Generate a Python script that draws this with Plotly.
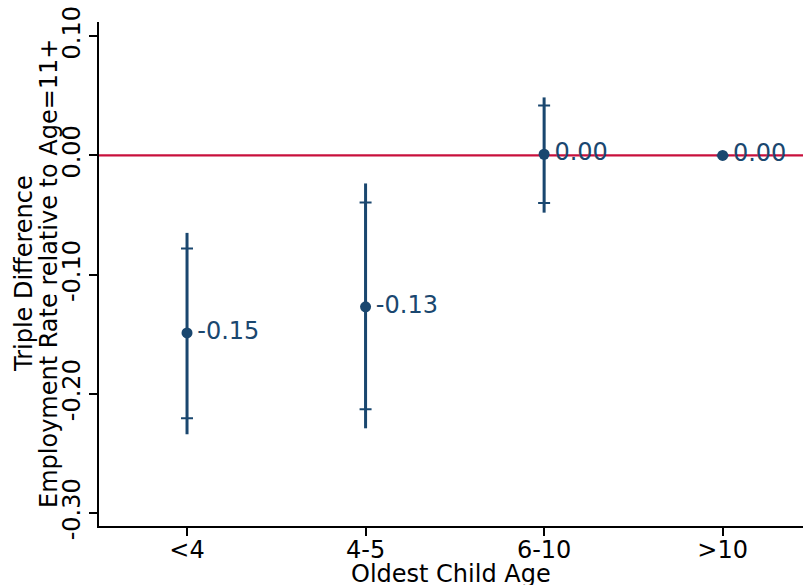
import plotly.graph_objects as go

categories = ["<4", "4-5", "6-10", ">10"]
estimates = [-0.149, -0.127, 0.001, 0.000]
ci95_low = [-0.234, -0.229, -0.048, None]
ci95_high = [-0.065, -0.0235, 0.0487, None]
ci90_low = [-0.2206, -0.213, -0.040, None]
ci90_high = [-0.078, -0.0394, 0.042, None]
y_ticks = [0.10, 0.00, -0.10, -0.20, -0.30]
y_title_lines = ["Triple Difference", "Employment Rate relative to Age=11+"]
x_title = "Oldest Child Age"

navy = "#1a476f"
red = "#c8103c"
font = "DejaVu Sans"
fs = 24

def plus(hi):
    return [None if h is None else h - e for h, e in zip(hi, estimates)]

def minus(lo):
    return [None if l is None else e - l for l, e in zip(lo, estimates)]

fig = go.Figure()

fig.add_trace(go.Scatter(
    x=categories, y=estimates, mode="markers",
    marker=dict(size=1, color=navy, opacity=0),
    error_y=dict(type="data", symmetric=False, array=plus(ci95_high),
                 arrayminus=minus(ci95_low), color=navy, thickness=3, width=0),
    showlegend=False, hoverinfo="skip"))

fig.add_trace(go.Scatter(
    x=categories, y=estimates, mode="markers",
    marker=dict(size=1, color=navy, opacity=0),
    error_y=dict(type="data", symmetric=False, array=plus(ci90_high),
                 arrayminus=minus(ci90_low), color=navy, thickness=2, width=6),
    showlegend=False, hoverinfo="skip"))

fig.add_trace(go.Scatter(
    x=categories, y=estimates, mode="markers+text",
    marker=dict(size=11, color=navy),
    text=["\u200a" + f"{v:.2f}" for v in estimates],
    textposition="middle right",
    textfont=dict(family=font, size=fs, color=navy),
    showlegend=False, cliponaxis=False))

fig.add_shape(type="line", xref="paper", x0=0, x1=1, yref="y", y0=0, y1=0,
              line=dict(color=red, width=2.2), layer="below")

for txt, shift in zip(y_title_lines, [-75, -50]):
    fig.add_annotation(text=txt, xref="paper", yref="paper", x=0, y=0.5,
                       xanchor="center", yanchor="middle", xshift=shift,
                       textangle=-90, showarrow=False,
                       font=dict(family=font, size=fs, color="black"))

fig.add_annotation(text=x_title, xref="paper", yref="paper", x=0.5, y=0,
                   xanchor="center", yanchor="middle", yshift=-48,
                   showarrow=False, font=dict(family=font, size=fs, color="black"))

fig.update_layout(
    width=803, height=585,
    margin=dict(l=99, r=0, t=22, b=59),
    paper_bgcolor="white", plot_bgcolor="white",
    font=dict(family=font, size=fs, color="black"),
    xaxis=dict(
        type="category", range=[-0.493, 3.45], automargin=False,
        showline=True, linecolor="black", linewidth=1.5,
        ticks="outside", ticklen=8, tickwidth=1.5, tickcolor="black",
        showgrid=False, zeroline=False, ticklabelstandoff=-7,
        tickfont=dict(family=font, size=fs),
    ),
    yaxis=dict(
        range=[-0.311, 0.112], automargin=False,
        tickvals=y_ticks, ticktext=[f"{v:.2f}" for v in y_ticks],
        tickangle=-90,
        showline=True, linecolor="black", linewidth=1.5,
        ticks="outside", ticklen=8, tickwidth=1.5, tickcolor="black",
        showgrid=False, zeroline=False,
        tickfont=dict(family=font, size=fs),
    ),
)

fig.write_html("out.html", config={"displayModeBar": False},
               post_script="document.body.style.margin='0';")
